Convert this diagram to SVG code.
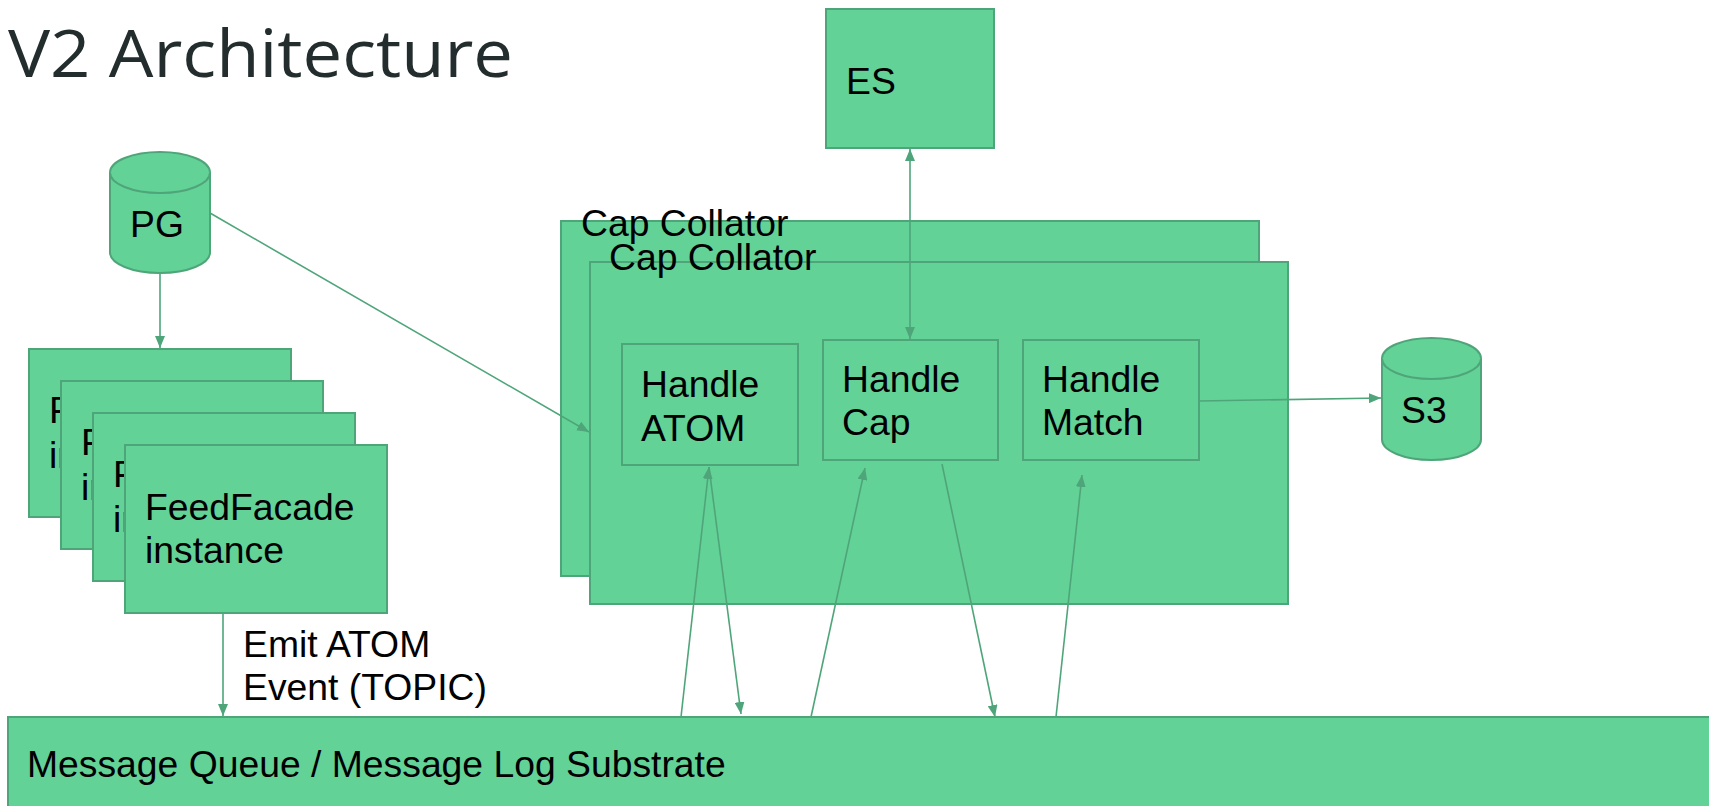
<svg xmlns="http://www.w3.org/2000/svg" width="1709" height="806" viewBox="0 0 1709 806">
<style>
.n{fill:#63d297;stroke:#4fa57a;stroke-width:2}
.t{font-family:"Liberation Sans",Arial,sans-serif;font-size:37.3px;fill:#000}
.c{stroke:#4fa57a;stroke-width:1.6;fill:none}
.title{font-family:"Open Sans","Noto Sans",sans-serif;font-weight:400;font-size:66px;fill:#232d2d}
</style>
<defs>
<marker id="ah" viewBox="0 0 12 10" refX="12" refY="5" markerWidth="12" markerHeight="10" markerUnits="userSpaceOnUse" orient="auto-start-reverse">
<path d="M0,0 L12,5 L0,10 Z" fill="#4fa57a"/>
</marker>
</defs>
<rect width="1709" height="806" fill="#fff"/>
<text class="title" x="8" y="77" textLength="505" lengthAdjust="spacingAndGlyphs">V2 Architecture</text>

<g id="es"><rect class="n" x="826" y="9" width="168" height="139"/><text class="t" x="846" y="94">ES</text></g>

<g id="cap-collator-1"><rect class="n" x="561" y="221" width="698" height="355"/><text class="t" x="581" y="236">Cap Collator</text></g>
<g id="cap-collator-2"><rect class="n" x="590" y="262" width="698" height="342"/><text class="t" x="609" y="270">Cap Collator</text></g>

<g id="handle-atom"><rect class="n" x="622" y="344" width="176" height="121"/><text class="t" x="641" y="397">Handle</text><text class="t" x="641" y="441">ATOM</text></g>
<g id="handle-cap"><rect class="n" x="823" y="340" width="175" height="120"/><text class="t" x="842" y="392">Handle</text><text class="t" x="842" y="435">Cap</text></g>
<g id="handle-match"><rect class="n" x="1023" y="340" width="176" height="120"/><text class="t" x="1042" y="392">Handle</text><text class="t" x="1042" y="435">Match</text></g>

<g id="pg"><path class="n" d="M110,172.5 A50,20.5 0 0 1 210,172.5 L210,252.5 A50,20.5 0 0 1 110,252.5 Z"/><path class="n" d="M110,172.5 A50,20.5 0 0 0 210,172.5" fill="none"/><text class="t" x="130" y="237">PG</text></g>

<g id="s3"><path class="n" d="M1382,358.5 A49.5,20.5 0 0 1 1481,358.5 L1481,439.5 A49.5,20.5 0 0 1 1382,439.5 Z"/><path class="n" d="M1382,358.5 A49.5,20.5 0 0 0 1481,358.5" fill="none"/><text class="t" x="1401" y="423">S3</text></g>

<g id="feedfacade-1"><rect class="n" x="29" y="349" width="262" height="168"/><text class="t" x="49" y="423">FeedFacade</text><text class="t" x="49" y="468">instance</text></g>
<g id="feedfacade-2"><rect class="n" x="61" y="381" width="262" height="168"/><text class="t" x="81" y="455">FeedFacade</text><text class="t" x="81" y="500">instance</text></g>
<g id="feedfacade-3"><rect class="n" x="93" y="413" width="262" height="168"/><text class="t" x="113" y="487">FeedFacade</text><text class="t" x="113" y="532">instance</text></g>
<g id="feedfacade-4"><rect class="n" x="125" y="445" width="262" height="168"/><text class="t" x="145" y="520">FeedFacade</text><text class="t" x="145" y="563">instance</text></g>

<g id="message-queue"><rect class="n" x="8" y="717" width="1720" height="110"/><text class="t" x="27" y="777">Message Queue / Message Log Substrate</text></g>

<g id="connectors">
<line class="c" x1="160" y1="273" x2="160" y2="348" marker-end="url(#ah)"/>
<line class="c" x1="210" y1="213" x2="589" y2="432" marker-end="url(#ah)"/>
<line class="c" x1="910" y1="149" x2="910" y2="339" marker-start="url(#ah)" marker-end="url(#ah)"/>
<line class="c" x1="1199" y1="401" x2="1381" y2="398" marker-end="url(#ah)"/>
<line class="c" x1="223" y1="614" x2="223" y2="716" marker-end="url(#ah)"/>
<line class="c" x1="681" y1="717" x2="709" y2="467" marker-end="url(#ah)"/>
<line class="c" x1="709" y1="467" x2="741" y2="714" marker-end="url(#ah)"/>
<line class="c" x1="811" y1="717" x2="865" y2="468" marker-end="url(#ah)"/>
<line class="c" x1="942" y1="464" x2="995" y2="717" marker-end="url(#ah)"/>
<line class="c" x1="1056" y1="717" x2="1082" y2="475" marker-end="url(#ah)"/>
<text class="t" x="243" y="657">Emit ATOM</text>
<text class="t" x="243" y="700">Event (TOPIC)</text>
</g>
</svg>
